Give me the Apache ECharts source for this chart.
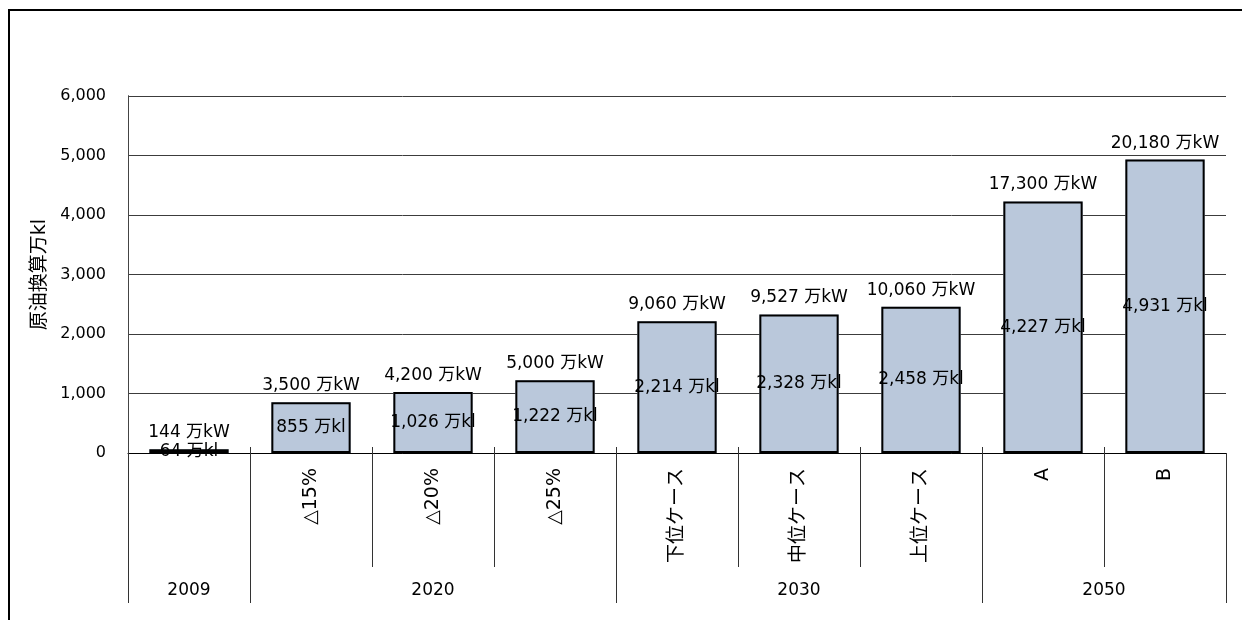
<!DOCTYPE html>
<html>
<head>
<meta charset="utf-8">
<script src="https://cdn.jsdelivr.net/npm/echarts@6/dist/echarts.min.js"></script>
<style>
  html, body { margin: 0; padding: 0; background: #fff; }
  #chart { width: 1242px; height: 620px; }
</style>
</head>
<body>
<div id="chart"></div>
<script>
// Scenario labels (first level) and their year groups (second level)
const scenarios = ['', '△15%', '△20%', '△25%', '下位ケース', '中位ケース', '上位ケース', 'A', 'B'];
const years = ['2009', '2020', '2030', '2050'];
const yearSpan = [1, 3, 3, 2];               // number of scenarios in each year
// Crude-oil equivalent (万kl) — bar heights
const oilKl = [64, 855, 1026, 1222, 2214, 2328, 2458, 4227, 4931];
// Installed capacity (万kW) — shown above each bar
const capacityKW = [144, 3500, 4200, 5000, 9060, 9527, 10060, 17300, 20180];
// Value axis ticks
const yTicks = { min: 0, max: 6000, interval: 1000 };

const FONT = "'DejaVu Sans', 'Noto Sans CJK JP', sans-serif";
const fmt = v => Number(v).toLocaleString('en-US');

// Boundaries between year groups and the centre of each group, in category units
const groupEdges = [0];
yearSpan.forEach(n => groupEdges.push(groupEdges[groupEdges.length - 1] + n));
const groupCentres = yearSpan.map((n, i) => groupEdges[i] + n / 2);
const innerEdges = scenarios.slice(1).map((_, i) => i + 1);

const chart = echarts.init(document.getElementById('chart'), null, { renderer: 'canvas' });

chart.setOption({
  backgroundColor: '#ffffff',
  animation: false,
  textStyle: { fontFamily: FONT },
  graphic: [{
    type: 'rect',
    shape: { x: 9, y: 10, width: 1300, height: 700 },
    style: { fill: 'none', stroke: '#000', lineWidth: 2 },
    silent: true
  }],
  grid: {
    left: 128, right: 16, top: 96, bottom: 167,
    outerBoundsMode: 'none'
  },
  xAxis: [
    {
      type: 'category',
      data: scenarios,
      position: 'bottom',
      boundaryGap: true,
      axisLine: { show: true, lineStyle: { color: '#000', width: 1 } },
      axisTick: { show: true, interval: 0, length: 114, lineStyle: { color: '#333', width: 1 } },
      axisLabel: {
        interval: 0, rotate: 90, margin: 15,
        fontSize: 19, color: '#000', fontFamily: FONT
      },
      splitLine: { show: false }
    },
    {
      type: 'value',
      min: 0, max: scenarios.length,
      position: 'bottom',
      axisLine: { show: false },
      splitLine: { show: false },
      axisTick: {
        show: true, customValues: groupEdges, length: 150,
        lineStyle: { color: '#333', width: 1 }
      },
      axisLabel: {
        show: true, customValues: groupCentres, margin: 129,
        fontSize: 17, color: '#000', fontFamily: FONT,
        formatter: v => {
          const i = groupCentres.findIndex(c => Math.abs(c - v) < 1e-6);
          return i >= 0 ? years[i] : '';
        }
      }
    },
    {
      type: 'value',
      min: 0, max: scenarios.length,
      position: 'bottom',
      axisLine: { show: false },
      splitLine: { show: false },
      axisLabel: { show: false },
      axisTick: {
        show: true, inside: true, customValues: innerEdges, length: 6,
        lineStyle: { color: '#333', width: 1 }
      }
    }
  ],
  yAxis: [
    {
      type: 'value',
      min: yTicks.min, max: yTicks.max, interval: yTicks.interval,
      name: '原油換算万kl',
      nameLocation: 'middle',
      nameRotate: 90,
      nameGap: 75,
      nameTextStyle: { fontSize: 19, color: '#000', fontFamily: FONT },
      axisLine: { show: true, lineStyle: { color: '#111', width: 1 } },
      axisTick: { show: false },
      axisLabel: {
        margin: 22, fontSize: 16, color: '#000', fontFamily: FONT,
        formatter: v => fmt(v)
      },
      splitLine: { show: true, lineStyle: { color: '#3c3c3c', width: 1 } }
    },
    {
      type: 'value',
      position: 'right',
      min: yTicks.min, max: yTicks.max, interval: yTicks.interval,
      axisLine: { show: true, lineStyle: { color: '#444', width: 1 } },
      axisTick: { show: false },
      axisLabel: { show: false },
      splitLine: { show: false }
    }
  ],
  series: [
    {
      // bar fill with the crude-oil equivalent inside
      type: 'bar',
      xAxisIndex: 0, yAxisIndex: 0,
      data: oilKl,
      barWidth: '65%',
      z: 2,
      itemStyle: { color: '#bac8db', borderWidth: 0 },
      label: {
        show: true, position: 'inside',
        fontSize: 17, color: '#000', fontFamily: FONT,
        formatter: p => fmt(p.value) + ' 万kl'
      }
    },
    {
      // bar outline, with the installed capacity on top
      type: 'bar',
      xAxisIndex: 0, yAxisIndex: 0,
      data: oilKl,
      barWidth: '65%',
      barGap: '-100%',
      z: 3,
      itemStyle: { color: 'rgba(0,0,0,0)', borderColor: '#000', borderWidth: 2 },
      label: {
        show: true, position: 'top', distance: 8,
        fontSize: 17, color: '#000', fontFamily: FONT,
        formatter: p => fmt(capacityKW[p.dataIndex]) + ' 万kW'
      }
    }
  ]
});
</script>
</body>
</html>
